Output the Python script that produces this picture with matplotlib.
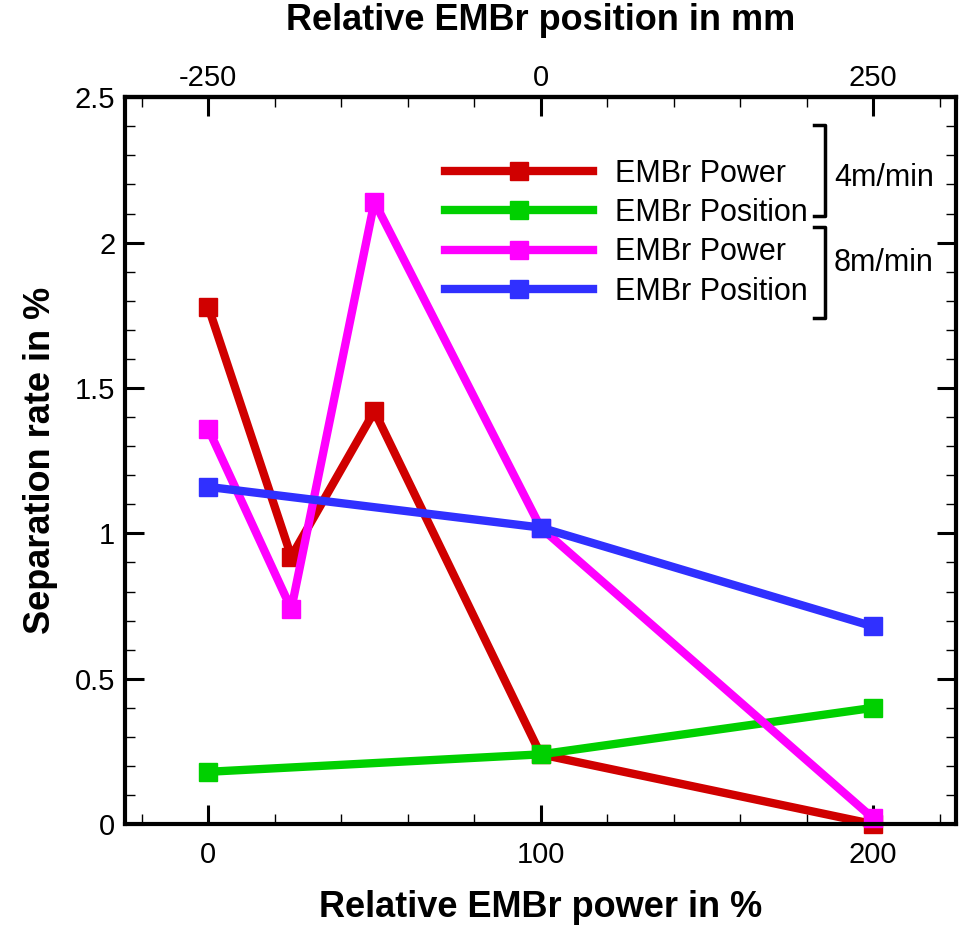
import matplotlib.pyplot as plt
from matplotlib.ticker import FixedLocator, MultipleLocator, FormatStrFormatter

plt.rcParams['font.family'] = ['Liberation Sans', 'DejaVu Sans']
plt.rcParams['axes.unicode_minus'] = False

# data
power_x = [0, 25, 50, 100, 200]
position_x = [0, 100, 200]
power_4 = [1.78, 0.92, 1.42, 0.24, 0.0]
position_4 = [0.18, 0.24, 0.40]
power_8 = [1.36, 0.74, 2.14, 1.02, 0.02]
position_8 = [1.16, 1.02, 0.68]

top_ticks = [-250, 0, 250]
top_minor = [-300, -200, -150, -100, -50, 50, 100, 150, 200, 300]

series = [
    (power_x, power_4, '#D00000', 'EMBr Power'),
    (position_x, position_4, '#00D000', 'EMBr Position'),
    (power_x, power_8, '#FF00FF', 'EMBr Power'),
    (position_x, position_8, '#3030FF', 'EMBr Position'),
]

fig = plt.figure(figsize=(9.62, 9.26), dpi=100)
ax = fig.add_axes([0.130, 0.110, 0.864, 0.785])

for xs, ys, col, lab in series:
    ax.plot(xs, ys, color=col, lw=6, marker='s', ms=13, label=lab,
            clip_on=False, zorder=3)

ax.set_xlim(-25, 225)
ax.set_ylim(0, 2.5)

ax.xaxis.set_major_locator(MultipleLocator(100))
ax.xaxis.set_minor_locator(MultipleLocator(20))
ax.yaxis.set_major_locator(MultipleLocator(0.5))
ax.yaxis.set_minor_locator(MultipleLocator(0.1))
ax.yaxis.set_major_formatter(FormatStrFormatter('%g'))

for s in ax.spines.values():
    s.set_linewidth(3)
    s.set_zorder(4)

ax.tick_params(which='major', direction='in', length=14, width=2.2,
               labelsize=21, top=False, right=True)
ax.tick_params(which='minor', direction='in', length=7, width=1,
               top=False, right=True)
ax.tick_params(axis='x', which='major', pad=12)
ax.tick_params(axis='y', which='major', pad=7)

ax.set_xlabel('Relative EMBr power in %', fontsize=26, fontweight='bold',
              labelpad=15)
ax.set_ylabel('Separation rate in %', fontsize=26, fontweight='bold',
              labelpad=12)

# top axis: position in mm
top = ax.secondary_xaxis('top', functions=(lambda p: p * 2.5 - 250,
                                            lambda m: (m + 250) / 2.5))
top.xaxis.set_major_locator(FixedLocator(top_ticks))
top.xaxis.set_minor_locator(FixedLocator(top_minor))
top.tick_params(which='major', direction='in', length=14, width=2.2,
                labelsize=21, pad=4)
top.tick_params(which='minor', direction='in', length=7, width=1)
top.spines['top'].set_linewidth(3)
top.set_xlabel('Relative EMBr position in mm', fontsize=26,
               fontweight='bold', labelpad=24)

leg = ax.legend(loc='upper left', bbox_to_anchor=(0.385, 0.915), frameon=False,
                fontsize=22, handlelength=4.85, handletextpad=0.7,
                labelspacing=0.3, borderpad=0, borderaxespad=0)

# group brackets
br_kw = dict(color='black', lw=2.5, transform=fig.transFigure, clip_on=False)
def bracket(y0, y1):
    x = 825 / 962
    x0 = 814 / 962
    ax.plot([x0, x, x, x0], [1 - y0 / 926, 1 - y0 / 926, 1 - y1 / 926, 1 - y1 / 926], **br_kw)

bracket(125, 216)
bracket(227, 318)
fig.text(834 / 962, 1 - 178 / 926, '4m/min', fontsize=22, va='center', ha='left')
fig.text(834 / 962, 1 - 263 / 926, '8m/min', fontsize=22, va='center', ha='left')

fig.savefig('out.png', dpi=100)
